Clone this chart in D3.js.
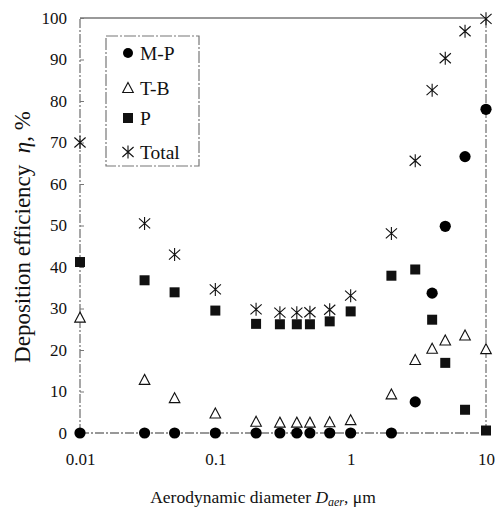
<!DOCTYPE html>
<html><head><meta charset="utf-8">
<script src="https://cdn.jsdelivr.net/npm/d3@7"></script>
<style>body{margin:0;background:#fff}svg{display:block}text{font-family:"Liberation Serif","Times New Roman",serif;fill:#111}</style>
</head><body><div id="chart"></div>
<script>
const diameters = [0.01,0.03,0.05,0.1,0.2,0.3,0.4,0.5,0.7,1,2,3,4,5,7,10];
const mp    = [0,0,0,0,0,0,0,0,0,0,0,7.5,33.7,49.8,66.6,78];
const tb    = [27.8,12.8,8.4,4.7,2.7,2.5,2.5,2.5,2.6,3.1,9.3,17.6,20.3,22.3,23.5,20.2];
const p     = [41.2,36.8,33.9,29.5,26.3,26.2,26.2,26.2,26.9,29.3,37.9,39.4,27.3,16.9,5.6,0.6];
const total = [70,50.5,43,34.6,29.8,29,29,29.1,29.7,33.1,48.1,65.6,82.6,90.3,96.8,99.8];
const xTicks = [0.01,0.1,1,10];
const xTickLabels = ["0.01","0.1","1","10"];
const yTicks = [0,10,20,30,40,50,60,70,80,90,100];
const legendLabels = ["M-P","T-B","P","Total"];

const W=496,H=512;
const FONT='"Liberation Serif","Times New Roman",serif';
const svg=d3.select("#chart").append("svg").attr("width",W).attr("height",H);
const x=d3.scaleLog().domain([0.01,10]).range([80,486]);
const y=d3.scaleLinear().domain([0,100]).range([433,18]);
const axisColor="#777";
const dash="9,2,2,2";

// frame
svg.append("line").attr("x1",x(0.01)).attr("x2",x(10)).attr("y1",y(100)).attr("y2",y(100)).attr("stroke",axisColor).attr("stroke-width",1.3);
svg.append("line").attr("x1",x(0.01)).attr("x2",x(10)).attr("y1",y(0)).attr("y2",y(0)).attr("stroke",axisColor).attr("stroke-width",1.3).attr("stroke-dasharray",dash);
svg.append("line").attr("x1",x(0.01)).attr("x2",x(0.01)).attr("y1",y(0)).attr("y2",y(100)).attr("stroke",axisColor).attr("stroke-width",1.3).attr("stroke-dasharray",dash);
svg.append("line").attr("x1",x(10)).attr("x2",x(10)).attr("y1",y(0)).attr("y2",y(100)).attr("stroke",axisColor).attr("stroke-width",1.3).attr("stroke-dasharray",dash);

// y axis
const yAxis=d3.axisLeft(y).tickValues(yTicks).tickSize(-4).tickPadding(13).tickFormat(d3.format("d"));
const gy=svg.append("g").attr("transform",`translate(${x(0.01)},0)`).call(yAxis);
gy.attr("font-family",FONT).attr("font-size",17);
gy.select(".domain").remove();
gy.selectAll(".tick line").attr("stroke",axisColor);
gy.selectAll("text").attr("font-family",FONT).style("font-family",FONT).style("font-size","17px").attr("fill","#111");

// x axis
const xAxis=d3.axisBottom(x).tickValues(xTicks).tickSize(0).tickPadding(20).tickFormat((d,i)=>xTickLabels[i]);
const gx=svg.append("g").attr("transform",`translate(0,${y(0)})`).call(xAxis);
gx.attr("font-family",FONT).attr("font-size",17);
gx.select(".domain").remove();
gx.selectAll("text").attr("font-family",FONT).style("font-family",FONT).style("font-size","17px").attr("fill","#111");

// titles
svg.append("text").attr("transform",`translate(30,237) rotate(-90)`).attr("text-anchor","middle").style("font-size","23px")
  .html('Deposition efficiency &#160;<tspan font-style="italic">η</tspan>, %');
const xt=svg.append("text").attr("x",263).attr("y",503).attr("text-anchor","middle").style("font-size","17.5px");
xt.append("tspan").text("Aerodynamic diameter ");
xt.append("tspan").attr("font-style","italic").text("D");
xt.append("tspan").attr("font-style","italic").attr("dy",3).style("font-size","12px").text("aer");
xt.append("tspan").attr("dy",-3).text(", μm");

// markers
const asterisk="M0,-6.5L0,6.5M-5.6,-5L5.6,5M-5.6,5L5.6,-5";
function drawMarker(g,type){
  if(type==="circle") g.append("circle").attr("r",5.6).attr("fill","#000");
  else if(type==="square") g.append("rect").attr("x",-5).attr("y",-5).attr("width",10).attr("height",10).attr("fill","#111");
  else if(type==="tri") g.append("path").attr("d","M0,-5.5L5.3,4.5L-5.3,4.5Z").attr("fill","#fff").attr("stroke","#111").attr("stroke-width",1.1);
  else g.append("path").attr("d",asterisk).attr("stroke","#111").attr("stroke-width",1.1).attr("fill","none");
}
const series=[{v:tb,t:"tri"},{v:p,t:"square"},{v:mp,t:"circle"},{v:total,t:"star"}];
series.forEach(s=>{
  const g=svg.append("g");
  g.selectAll("g").data(diameters.map((d,i)=>[d,s.v[i]])).join("g")
    .attr("transform",d=>`translate(${x(d[0])},${y(d[1])})`)
    .each(function(){drawMarker(d3.select(this),s.t);});
});

// legend
svg.append("rect").attr("x",106).attr("y",36).attr("width",93).attr("height",130).attr("fill","#fff")
  .attr("stroke",axisColor).attr("stroke-width",1.2).attr("stroke-dasharray","12,2,2,2");
const lt=["circle","tri","square","star"];
const ly=[53,88,118,152];
legendLabels.forEach((l,i)=>{
  const g=svg.append("g").attr("transform",`translate(128,${ly[i]})`);
  drawMarker(g,lt[i]);
  if(lt[i]==="circle") g.select("circle").attr("r",5);
  g.append("text").attr("x",12).attr("y",6.5).style("font-size","19.5px").text(l);
});
</script></body></html>
